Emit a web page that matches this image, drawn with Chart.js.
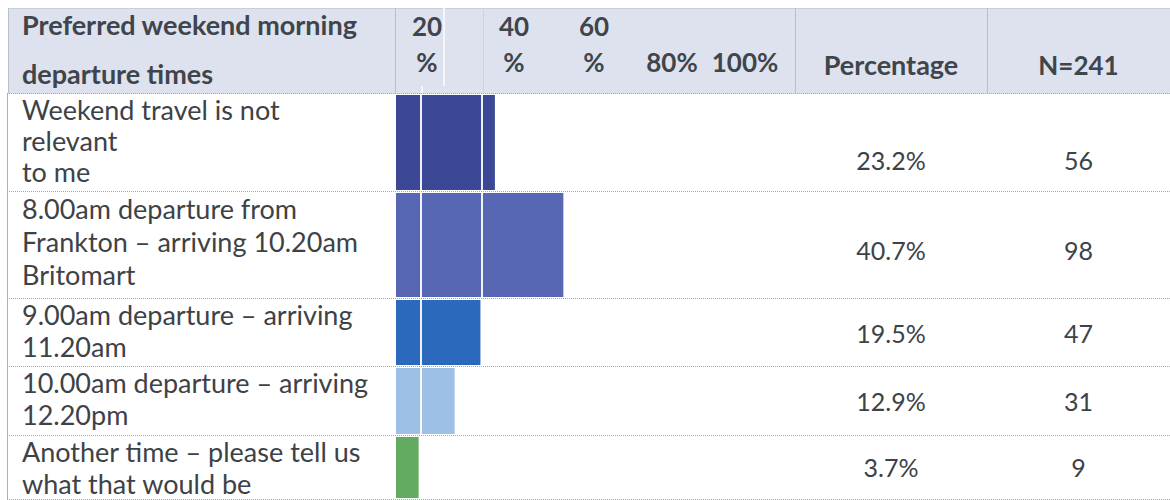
<!DOCTYPE html>
<html>
<head>
<meta charset="utf-8">
<script src="https://cdn.jsdelivr.net/npm/chart.js@4.4.1/dist/chart.umd.min.js"></script>
<style>
    body { margin: 0; background: #fff; width: 1170px; height: 500px; overflow: hidden; }
    #sheet { position: relative; width: 1170px; height: 500px; font-family: Lato, 'Open Sans', sans-serif; color: #3d4247; }
    .abs { position: absolute; }
    .head { position: absolute; left: 8px; top: 8px; width: 1162px; height: 85px; background: #dde2ee; border-top: 1px solid #c9ceda; }
    .vline { position: absolute; width: 1px; background: #b9bfcc; }
    .hline { position: absolute; left: 7px; width: 1163px; height: 0; border-top: 1px dotted #a9a9a9; }
    .hd { font-weight: 700; font-size: 27px; line-height: 30px; white-space: nowrap; color: #3f454b; }
    .tk { font-size: 26px; }
    .lbl { font-size: 27px; white-space: nowrap; }
    .num { font-size: 25px; line-height: 28px; text-align: center; }
    .bar-cell { position: absolute; left: 396px; width: 399px; }
</style>
</head>
<body>
<div id="sheet"></div>
<script>
// survey answers, one row each
const categories = [
    ['Weekend travel is not', 'relevant', 'to me'],
    ['8.00am departure from', 'Frankton \u2013 arriving 10.20am', 'Britomart'],
    ['9.00am departure \u2013 arriving', '11.20am'],
    ['10.00am departure \u2013 arriving', '12.20pm'],
    ['Another time \u2013 please tell us', 'what that would be']
];
const percentages = [23.2, 40.7, 19.5, 12.9, 3.7];
const counts = [56, 98, 47, 31, 9];
const sampleSize = 241;
const tickLabels = [['20', '%'], ['40', '%'], ['60', '%'], ['80%'], ['100%']];
const headerTitle = ['Preferred weekend morning', 'departure times'];

// colours and layout
const barColors = ['#3c4896', '#5867b4', '#2b69bd', '#9ebfe6', '#63ab60'];
const rowEdges = [93, 191, 298, 366, 435, 499];
const labelLineHeights = [31, 33, 32, 32, 32];
const valueCenters = [160, 250, 333, 401, 467];
const tickCenters = [427, 514, 594, 672, 745];
const gridValues = [4.4, 20];

const sheet = document.getElementById('sheet');

function add(cls, css, html) {
    const el = document.createElement('div');
    el.className = cls;
    Object.assign(el.style, css);
    if (html !== undefined) el.innerHTML = html;
    sheet.appendChild(el);
    return el;
}

// header band
add('head', {});
[[8, 8, 85, '#b9bfcc'], [395, 8, 85, '#b9bfcc'], [795, 8, 85, '#b9bfcc'], [987, 8, 85, '#b9bfcc'],
 [483, 8, 85, '#cfd4df'], [443, 8, 78, '#f4f6fa'], [421, 86, 7, '#f4f6fa']].forEach(([x, y, h, c]) => {
    add('vline', { left: x + 'px', top: y + 'px', height: h + 'px', background: c, width: (c === '#f4f6fa' ? 2 : 1) + 'px' });
});
add('hd abs', { left: '22px', top: '10px' }, headerTitle[0]);
add('hd abs', { left: '22px', top: '59px' }, headerTitle[1]);
tickLabels.forEach((lines, i) => {
    const tops = lines.length === 2 ? [11, 47] : [47];
    lines.forEach((txt, j) => {
        add('hd tk abs', { left: (tickCenters[i] - 40) + 'px', width: '80px', textAlign: 'center', top: tops[j] + 'px' }, txt);
    });
});
add('hd abs', { left: '795px', width: '192px', textAlign: 'center', top: '50px' }, 'Percentage');
add('hd tk abs', { left: '987px', width: '183px', textAlign: 'center', top: '50px' }, 'N=' + sampleSize);

// left border of the body and the row rules
add('vline', { left: '7px', top: '93px', height: '406px', background: '#b0b0b0' });
rowEdges.forEach(y => add('hline', { top: y + 'px' }));

categories.forEach((lines, i) => {
    const top = rowEdges[i];
    const bottom = rowEdges[i + 1];
    const lh = labelLineHeights[i];
    add('lbl abs', { left: '22px', top: (top + 1) + 'px', lineHeight: lh + 'px' }, lines.join('<br>'));
    add('num abs', { left: '795px', width: '192px', top: (valueCenters[i] - 14) + 'px' }, percentages[i].toFixed(1) + '%');
    add('num abs', { left: '987px', width: '183px', top: (valueCenters[i] - 14) + 'px' }, counts[i]);

    // one single-bar chart per row so each bar fills its own row height
    const cell = add('bar-cell', { top: (top + 2) + 'px', height: (bottom - top - 3) + 'px' });
    const canvas = document.createElement('canvas');
    cell.appendChild(canvas);
    new Chart(canvas, {
        type: 'bar',
        data: {
            labels: [lines.join(' ')],
            datasets: [{
                data: [percentages[i]],
                backgroundColor: barColors[i],
                base: -2,
                borderWidth: 0,
                barPercentage: 1,
                categoryPercentage: 1
            }]
        },
        options: {
            indexAxis: 'y',
            responsive: true,
            maintainAspectRatio: false,
            animation: false,
            layout: { padding: 0 },
            plugins: { legend: { display: false }, tooltip: { enabled: false } },
            scales: {
                x: {
                    min: -2,
                    max: 100,
                    border: { display: false },
                    ticks: { display: false },
                    grid: { color: 'rgba(255,255,255,0.92)', lineWidth: 2, z: 1, drawTicks: false },
                    afterBuildTicks: (scale) => { scale.ticks = gridValues.map(v => ({ value: v })); }
                },
                y: { display: false }
            }
        }
    });
});
</script>
</body>
</html>
